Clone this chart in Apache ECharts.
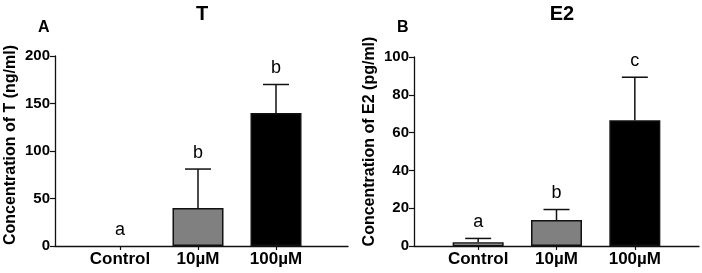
<!DOCTYPE html>
<html>
<head>
<meta charset="utf-8">
<script src="https://cdn.jsdelivr.net/npm/echarts@6/dist/echarts.min.js"></script>
<style>html,body{margin:0;padding:0;background:#fff;}#c{width:702px;height:273px;}</style>
</head>
<body>
<div id="c"></div>
<script>
const categories = ['Control', '10µM', '100µM'];
const tMean = [0, 40, 140];
const tErr = [0, 41, 30];
const tLetters = ['a', 'b', 'b'];
const e2Mean = [2, 13.7, 66.5];
const e2Err = [2, 5.6, 22.8];
const e2Letters = ['a', 'b', 'c'];
const barColors = ['#ffffff', '#808080', '#000000'];
const tAxis = { min: 0, max: 200, interval: 50 };
const e2Axis = { min: 0, max: 100, interval: 20 };

const FONT = "'Liberation Sans', Arial, Helvetica, sans-serif";
const INK = '#111';

function frameX(gi) {
  return { type: 'value', gridIndex: gi, min: 0, max: 1,
    axisLine: { show: true, lineStyle: { color: INK, width: 1.3 } },
    axisTick: { show: false }, axisLabel: { show: false }, splitLine: { show: false } };
}
function catX(gi) {
  return { type: 'category', gridIndex: gi, data: categories,
    axisLine: { show: false },
    axisTick: { show: true, alignWithLabel: true, length: 4, lineStyle: { color: INK, width: 1.2 } },
    axisLabel: { interval: 0, hideOverlap: false, color: '#000', fontFamily: FONT, fontWeight: 'bold', fontSize: 17, margin: 5 },
    splitLine: { show: false } };
}
function visY(gi, ax, name, pad) {
  return { type: 'value', gridIndex: gi, min: ax.min, max: ax.max, interval: ax.interval,
    name: name, nameLocation: 'middle', nameGap: 36,
    nameTextStyle: { color: '#000', fontFamily: FONT, fontWeight: 'bold', fontSize: 16, padding: [0, 0, 0, pad] },
    axisLine: { show: true, lineStyle: { color: INK, width: 1.3 } },
    axisTick: { show: true, length: 5, lineStyle: { color: INK, width: 1.2 } },
    axisLabel: { color: '#000', fontFamily: FONT, fontWeight: 'bold', fontSize: 15, margin: 5 },
    splitLine: { show: false } };
}
function hidY(gi, ax) {
  return { type: 'value', gridIndex: gi, min: ax.min, max: ax.max, interval: ax.interval, show: false,
    splitLine: { show: false } };
}
function bars(xi, yi, means) {
  return { type: 'bar', xAxisIndex: xi, yAxisIndex: yi, barWidth: 51,
    data: means.map((v, i) => ({ value: v, itemStyle: { color: barColors[i], borderColor: INK, borderWidth: v > 0 ? 1.5 : 0 } })) };
}
function errs(xi, yi, means, errsArr, letters) {
  return { type: 'custom', xAxisIndex: xi, yAxisIndex: yi, z: 5,
    data: means.map((v, i) => [i, v, errsArr[i]]),
    renderItem: function (params, api) {
      const i = api.value(0), m = api.value(1), e = api.value(2);
      const base = api.coord([i, m]);
      const top = api.coord([i, m + e]);
      const kids = [];
      if (e > 0) {
        kids.push({ type: 'line', shape: { x1: base[0], y1: base[1], x2: top[0], y2: top[1] }, style: { stroke: INK, lineWidth: 1.5 } });
        kids.push({ type: 'line', shape: { x1: top[0] - 13, y1: top[1], x2: top[0] + 13, y2: top[1] }, style: { stroke: INK, lineWidth: 1.5 } });
      }
      kids.push({ type: 'text', style: { x: top[0], y: top[1] - 16, text: letters[params.dataIndex], fill: '#000',
        fontFamily: FONT, fontSize: 18, align: 'center', verticalAlign: 'middle' } });
      return { type: 'group', children: kids };
    } };
}

const chart = echarts.init(document.getElementById('c'), null, { renderer: 'canvas' });
chart.setOption({
  animation: false,
  backgroundColor: '#fff',
  title: [
    { text: 'T', left: 197, top: -1, textAlign: 'center', textStyle: { fontFamily: FONT, fontWeight: 'bold', fontSize: 20, color: '#000' } },
    { text: 'E2', left: 557, top: -1, textAlign: 'center', textStyle: { fontFamily: FONT, fontWeight: 'bold', fontSize: 20, color: '#000' } },
    { text: 'A', left: 33, top: 15, textStyle: { fontFamily: FONT, fontWeight: 'bold', fontSize: 16, color: '#000' } },
    { text: 'B', left: 392, top: 15, textStyle: { fontFamily: FONT, fontWeight: 'bold', fontSize: 16, color: '#000' } }
  ],
  grid: [
    { left: 55, top: 56, width: 293, height: 190 },
    { left: 81, top: 56, width: 234, height: 190 },
    { left: 414, top: 57, width: 285, height: 189 },
    { left: 439, top: 57, width: 235, height: 189 }
  ],
  xAxis: [frameX(0), catX(1), frameX(2), catX(3)],
  yAxis: [visY(0, tAxis, 'Concentration of T (ng/ml)', 12), hidY(1, tAxis),
          visY(2, e2Axis, 'Concentration of E2 (pg/ml)', 20), hidY(3, e2Axis)],
  series: [
    bars(1, 1, tMean), errs(1, 1, tMean, tErr, tLetters),
    bars(3, 3, e2Mean), errs(3, 3, e2Mean, e2Err, e2Letters)
  ]
});
</script>
</body>
</html>
